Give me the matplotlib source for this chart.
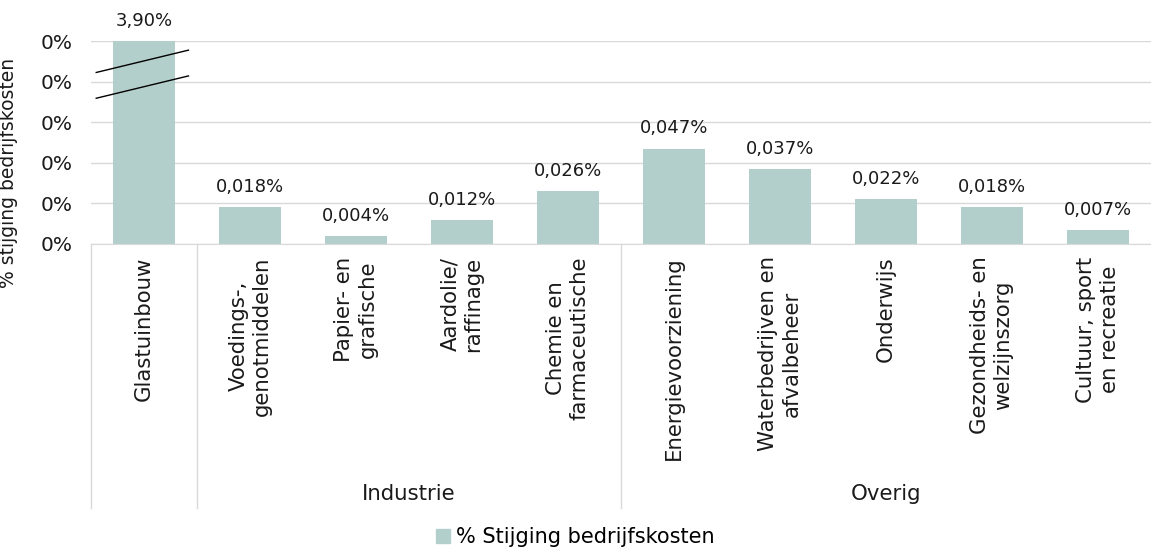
import matplotlib
matplotlib.use("Agg")
import matplotlib.pyplot as plt
from matplotlib.lines import Line2D
from matplotlib.patches import Patch

categories = ["Glastuinbouw", "Voedings-,\ngenotmiddelen", "Papier- en\ngrafische",
              "Aardolie/\nraffinage", "Chemie en\nfarmaceutische", "Energievoorziening",
              "Waterbedrijven en\nafvalbeheer", "Onderwijs", "Gezondheids- en\nwelzijnszorg",
              "Cultuur, sport\nen recreatie"]
values = [3.90, 0.018, 0.004, 0.012, 0.026, 0.047, 0.037, 0.022, 0.018, 0.007]
value_labels = ["3,90%", "0,018%", "0,004%", "0,012%", "0,026%", "0,047%", "0,037%",
                "0,022%", "0,018%", "0,007%"]
yticks = [0, 0.02, 0.04, 0.06, 0.08, 0.10]
groups = ["Industrie", "Overig"]
group_spans = [(1, 4), (5, 9)]
separators = [-0.5, 0.5, 4.5]
series_name = "% Stijging bedrijfskosten"

plt.rcParams['font.family'] = ['DejaVu Sans']
color = "#B3CFCC"
txt = "#1a1a1a"

fig = plt.figure(figsize=(11.51, 5.49), dpi=100)
ax = fig.add_axes([0.079, 0.5556, 0.921, 0.3697])
x = list(range(len(categories)))
ymax = 0.10
ax.bar(x, values, width=0.58, color=color, zorder=2)
ax.set_ylim(0, ymax)
ax.set_xlim(-0.5, len(categories) - 0.5)
ax.set_yticks(yticks)
ax.set_yticklabels([f"{v/100:.0%}" for v in yticks], fontsize=14.5, color=txt)
ax.yaxis.grid(True, color="#D9D9D9", linewidth=1, zorder=0)
ax.set_axisbelow(True)
for s in ["top", "right", "left"]:
    ax.spines[s].set_visible(False)
ax.spines["bottom"].set_color("#D9D9D9")
ax.tick_params(axis="both", length=0)
ax.tick_params(axis="y", pad=13)
ax.set_xticks(x)
ax.set_xticklabels(categories, rotation=90, fontsize=15.3, color=txt,
                   ha="center", va="top", multialignment="center", linespacing=1.2)
ax.tick_params(axis="x", pad=9)
ax.set_ylabel("% stijging bedrijfskosten", fontsize=13.5, color=txt)
ax.yaxis.set_label_coords(-0.069, 0.35)

for xi, v, lab in zip(x, values, value_labels):
    top = min(v, ymax)
    ax.annotate(lab, (xi, top), xytext=(0, 8), textcoords="offset points",
                ha="center", va="bottom", fontsize=13, color=txt)

# axis break marks on the first bar
for y0, y1 in [(0.0845, 0.0955), (0.0718, 0.0828)]:
    ax.add_line(Line2D([-0.45, 0.42], [y0, y1], color="black", linewidth=1,
                       zorder=5, clip_on=False))

# group separators and labels
for sx in separators:
    ax.add_line(Line2D([sx, sx], [0, -1.3], transform=ax.get_xaxis_transform(),
                       color="#D9D9D9", linewidth=1, clip_on=False))
for g, (a, b) in zip(groups, group_spans):
    ax.text((a + b) / 2, -1.23, g, transform=ax.get_xaxis_transform(),
            ha="center", va="center", fontsize=15.3, color=txt)

fig.legend(handles=[Patch(color=color, label=series_name)], loc="center",
           bbox_to_anchor=(0.5, 0.022), frameon=False, fontsize=15,
           handlelength=0.65, handleheight=0.65, handletextpad=0.3)

fig.savefig("out.png", dpi=100)
